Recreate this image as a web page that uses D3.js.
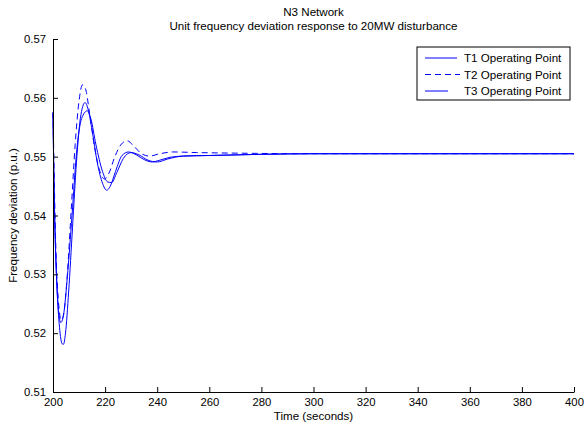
<!DOCTYPE html>
<html>
<head>
<meta charset="utf-8">
<script src="https://cdn.jsdelivr.net/npm/d3@7"></script>
<style>
  html, body { margin: 0; padding: 0; background: #fff; }
  #chart { width: 584px; height: 423px; }
  text { font-family: "Liberation Sans", Arial, Helvetica, sans-serif; }
</style>
</head>
<body>
<div id="chart"></div>
<script>
// N3 network: unit frequency deviation after a 20MW disturbance, three operating points

var seriesNames = ['T1 Operating Point', 'T2 Operating Point', 'T3 Operating Point'];

var t1Times  = [200, 200.3, 200.8, 201.5, 202.5, 203.5, 204, 204.8, 206, 207.5, 209, 210.5, 212.3, 213.5, 215, 217, 219, 220.6, 222, 224, 226.5, 229, 232, 235, 238, 241, 245, 250, 260, 280, 300, 400];
var t1Values = [0.5575, 0.548, 0.537, 0.528, 0.521, 0.5182, 0.5181, 0.520, 0.527, 0.538, 0.549, 0.5565, 0.5592, 0.558, 0.5545, 0.549, 0.5455, 0.5443, 0.545, 0.5475, 0.5502, 0.5508, 0.5503, 0.5495, 0.5491, 0.5494, 0.5499, 0.5501, 0.5502, 0.5504, 0.5505, 0.5505];

var t2Times  = [200, 200.4, 201, 202, 203.2, 204.2, 205.5, 207, 208.5, 210, 211.3, 212.5, 214, 216, 218, 219.8, 221.5, 223.5, 226, 228.5, 231, 234, 237, 241, 246, 255, 270, 300, 400];
var t2Values = [0.5575, 0.548, 0.536, 0.526, 0.5222, 0.5235, 0.530, 0.541, 0.552, 0.5595, 0.5622, 0.5615, 0.5575, 0.5515, 0.5475, 0.5462, 0.5472, 0.5497, 0.552, 0.5527, 0.5518, 0.5505, 0.5501, 0.5505, 0.5508, 0.5507, 0.5506, 0.5505, 0.5505];

var t3Times  = [200, 200.3, 201, 202, 203, 204, 205.5, 207.3, 209, 211, 213.2, 214.5, 216.5, 219, 221, 222.5, 224.5, 227, 230, 233, 236.5, 240, 244, 250, 260, 280, 300, 400];
var t3Values = [0.5575, 0.547, 0.534, 0.5245, 0.5218, 0.523, 0.5295, 0.540, 0.5505, 0.5565, 0.5578, 0.5565, 0.552, 0.5475, 0.5457, 0.5456, 0.5473, 0.5497, 0.5507, 0.5503, 0.5494, 0.5491, 0.5496, 0.5501, 0.5502, 0.5504, 0.5505, 0.5505];

var xTicks = [200, 220, 240, 260, 280, 300, 320, 340, 360, 380, 400];
var yTicks = [0.51, 0.52, 0.53, 0.54, 0.55, 0.56, 0.57];

document.addEventListener('DOMContentLoaded', function () {
  drawChart();
});

function drawChart() {
  var el = document.getElementById('chart');
  var width = 584;
  var height = 423;
  var margin = { top: 39, right: 10, bottom: 31, left: 53 };
  var blue = '#0000ff';
  var fs = 11.6;

  var svg = d3.select(el).append('svg')
    .attr('width', width)
    .attr('height', height);

  var x = d3.scaleLinear().domain([200, 400]).range([margin.left, width - margin.right]);
  var y = d3.scaleLinear().domain([0.51, 0.57]).range([height - margin.bottom, margin.top]);

  var series = [
    { name: seriesNames[0], t: t1Times, v: t1Values, dash: null },
    { name: seriesNames[1], t: t2Times, v: t2Values, dash: '6,4' },
    { name: seriesNames[2], t: t3Times, v: t3Values, dash: null }
  ];

  var line = d3.line()
    .x(function (d) { return x(d[0]); })
    .y(function (d) { return y(d[1]); })
    .curve(d3.curveMonotoneX);

  svg.append('g')
    .selectAll('path')
    .data(series)
    .join('path')
    .attr('fill', 'none')
    .attr('stroke', blue)
    .attr('stroke-width', 1)
    .attr('stroke-dasharray', function (d) { return d.dash; })
    .attr('d', function (d) { return line(d3.zip(d.t, d.v)); });

  // axes (matlab style: inward ticks, box off)
  svg.append('g')
    .attr('transform', 'translate(0,' + (height - margin.bottom) + ')')
    .call(d3.axisBottom(x).tickValues(xTicks).tickSizeInner(-5).tickSizeOuter(0).tickPadding(6).tickFormat(d3.format('d')))
    .call(function (g) { g.selectAll('text').attr('font-size', 11.3).attr('fill', '#000').attr('font-family', '"Liberation Sans", Arial, sans-serif'); })
    .call(function (g) { g.selectAll('line,path').attr('stroke', '#000'); });

  svg.append('g')
    .attr('transform', 'translate(' + margin.left + ',0)')
    .call(d3.axisLeft(y).tickValues(yTicks).tickSizeInner(-5).tickSizeOuter(0).tickPadding(7).tickFormat(d3.format('.2f')))
    .call(function (g) { g.selectAll('text').attr('font-size', 11.3).attr('fill', '#000').attr('font-family', '"Liberation Sans", Arial, sans-serif'); })
    .call(function (g) { g.selectAll('line,path').attr('stroke', '#000'); });

  // titles
  var cx = (margin.left + width - margin.right) / 2;
  svg.append('text').attr('x', cx).attr('y', 16).attr('text-anchor', 'middle').attr('font-size', fs).text('N3 Network');
  svg.append('text').attr('x', cx).attr('y', 30).attr('text-anchor', 'middle').attr('font-size', fs).text('Unit frequency deviation response to 20MW disturbance');
  svg.append('text').attr('x', cx).attr('y', 420).attr('text-anchor', 'middle').attr('font-size', fs).text('Time (seconds)');
  svg.append('text')
    .attr('transform', 'translate(17,' + ((margin.top + height - margin.bottom) / 2) + ') rotate(-90)')
    .attr('text-anchor', 'middle')
    .attr('font-size', fs)
    .text('Frequency deviation (p.u.)');

  // legend
  var legend = svg.append('g').attr('transform', 'translate(417,47)');
  legend.append('rect')
    .attr('width', 153).attr('height', 53)
    .attr('fill', '#fff').attr('stroke', '#000').attr('stroke-width', 1);
  var sampleLen = [32, 35, 23];
  series.forEach(function (s, i) {
    var row = legend.append('g').attr('transform', 'translate(0,' + (11 + i * 16.5) + ')');
    row.append('line')
      .attr('x1', 8).attr('x2', 8 + sampleLen[i])
      .attr('y1', 0).attr('y2', 0)
      .attr('stroke', blue).attr('stroke-width', 1)
      .attr('stroke-dasharray', s.dash);
    row.append('text')
      .attr('x', 47).attr('y', 4)
      .attr('font-size', fs)
      .text(s.name);
  });
}
</script>
</body>
</html>
